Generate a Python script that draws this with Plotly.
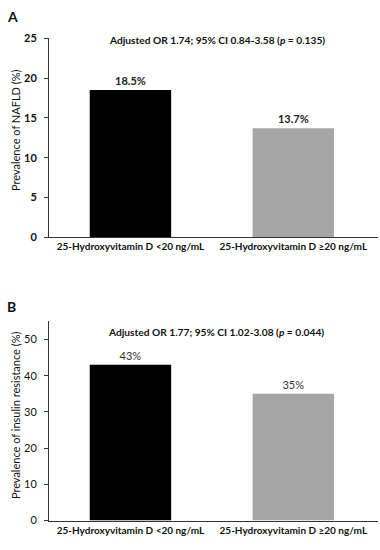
import plotly.graph_objects as go
from plotly.subplots import make_subplots

categories = ["25-Hydroxyvitamin D <20 ng/mL", "25-Hydroxyvitamin D ≥20 ng/mL"]
nafld_values = [18.5, 13.7]
nafld_labels = ["18.5%", "13.7%"]
ir_values = [43, 35]
ir_labels = ["43%", "35%"]
bar_colors = ["#000000", "#A6A6A6"]
title_a = "Adjusted OR 1.74; 95% CI 0.84-3.58 (<i>p</i> = 0.135)"
title_b = "Adjusted OR 1.77; 95% CI 1.02-3.08 (<i>p</i> = 0.044)"
ytitle_a = "Prevalence of NAFLD (%)"
ytitle_b = "Prevalence of insulin resistance (%)"

FONT = "Lato"
fig = make_subplots(rows=2, cols=1)

fig.add_trace(go.Bar(x=categories, y=nafld_values, text=[f"<b>{t}</b>" for t in nafld_labels],
                     textposition="outside", cliponaxis=False,
                     textfont=dict(size=11, color="#222", family=FONT),
                     marker=dict(color=bar_colors, line=dict(width=0)), width=0.5), row=1, col=1)
fig.add_trace(go.Bar(x=categories, y=ir_values, text=ir_labels,
                     textposition="outside", cliponaxis=False,
                     textfont=dict(size=11, color="#333", family=FONT),
                     marker=dict(color=bar_colors, line=dict(width=0)), width=0.5), row=2, col=1)

xdom = [49/380, 378/380]
fig.update_layout(
    width=380, height=550, margin=dict(l=0, r=0, t=0, b=0),
    paper_bgcolor="white", plot_bgcolor="white", showlegend=False,
    font=dict(family=FONT, size=11, color="#111"),
    xaxis=dict(domain=xdom, anchor="y"),
    xaxis2=dict(domain=xdom, anchor="y2"),
    yaxis=dict(domain=[1-236/550, 1-32/550]),
    yaxis2=dict(domain=[1-526/550, 1-322/550]),
)
fig.update_xaxes(range=[-0.5, 1.52], showline=True, linecolor="#333", linewidth=1,
                 ticks="", showgrid=False, tickfont=dict(size=10, family=FONT, color="#111"),
                 tickprefix="<b>", ticksuffix="</b>")
fig.update_yaxes(showline=True, linecolor="#333", linewidth=1, ticks="outside", ticklen=4,
                 tickcolor="#333", showgrid=False, zeroline=False, ticklabelstandoff=5,
                 tickfont=dict(size=11, family=FONT, color="#111"),
                 tickprefix="<b>", ticksuffix="</b>")
fig.update_yaxes(range=[0, 25], dtick=5, row=1, col=1)
fig.update_yaxes(range=[0, 55], tickvals=[0, 10, 20, 30, 40, 50], row=2, col=1)

for txt, yc in [(ytitle_a, 126), (ytitle_b, 418)]:
    fig.add_annotation(text=txt, x=15/380, y=1-yc/550, xref="paper", yref="paper",
                       xanchor="center", yanchor="middle",
                       textangle=-90, showarrow=False, font=dict(size=11, family=FONT, color="#111"))

fig.add_annotation(text=f"<b>{title_a}</b>", x=217/380, y=1-34/550, xref="paper", yref="paper",
                   xanchor="center", yanchor="middle",
                   showarrow=False, font=dict(size=10.2, family=FONT, color="#111"))
fig.add_annotation(text=f"<b>{title_b}</b>", x=216/380, y=1-333/550, xref="paper", yref="paper",
                   xanchor="center", yanchor="middle",
                   showarrow=False, font=dict(size=10.2, family=FONT, color="#111"))
fig.add_annotation(text="<b>A</b>", x=5/380, y=1-10/550, xref="paper", yref="paper",
                   xanchor="left", yanchor="middle",
                   showarrow=False, font=dict(size=14, family=FONT, color="#111"))
fig.add_annotation(text="<b>B</b>", x=5/380, y=1-307/550, xref="paper", yref="paper",
                   xanchor="left", yanchor="middle",
                   showarrow=False, font=dict(size=14, family=FONT, color="#111"))

fig.write_html("out.html", config={"displayModeBar": False},
               post_script="document.body.style.margin='0';")
